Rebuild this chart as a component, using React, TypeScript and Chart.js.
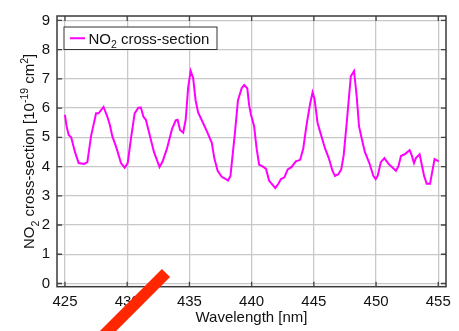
import React, { useEffect, useRef } from "react";
import { Chart, registerables } from "chart.js";

Chart.register(...registerables);

// ---- data ----
const wavelengths = [
  425.0, 425.13, 425.3, 425.5, 425.8, 426.1, 426.55, 426.8, 427.1, 427.5, 427.7, 428.1, 428.4, 428.6, 428.8,
  429.15, 429.5, 429.8, 430.04, 430.3, 430.6, 430.9, 431.1, 431.3, 431.5, 431.8, 432.15, 432.6, 432.85, 433.2,
  433.6, 433.9, 434.05, 434.25, 434.5, 434.7, 434.9, 435.1, 435.3, 435.5, 435.7, 436.1, 436.45, 436.8, 437.0,
  437.27, 437.6, 437.86, 438.1, 438.3, 438.66, 438.9, 439.2, 439.4, 439.65, 439.8, 439.95, 440.2, 440.4, 440.6,
  440.94, 441.16, 441.4, 441.67, 441.9, 442.15, 442.36, 442.63, 442.9, 443.2, 443.55, 443.9, 444.15, 444.4, 444.7,
  444.9, 445.05, 445.3, 445.6, 445.9, 446.2, 446.5, 446.7, 446.97, 447.2, 447.4, 447.64, 447.97, 448.23, 448.45,
  448.63, 448.85, 449.1, 449.46, 449.78, 449.97, 450.13, 450.38, 450.67, 451.0, 451.34, 451.6, 451.8, 452.0, 452.3,
  452.7, 452.86, 453.05, 453.2, 453.5, 453.67, 453.86, 454.07, 454.34, 454.7, 455.03,
];
const crossSection = [
  5.77, 5.38, 5.08, 5.0, 4.5, 4.12, 4.09, 4.15, 5.05, 5.82, 5.82, 6.04, 5.71, 5.44, 5.05,
  4.62, 4.12, 3.96, 4.12, 4.95, 5.82, 6.01, 6.02, 5.71, 5.6, 5.1, 4.5, 3.98, 4.18, 4.62,
  5.28, 5.58, 5.6, 5.25, 5.16, 5.6, 6.7, 7.27, 7.03, 6.26, 5.85, 5.49, 5.16, 4.81, 4.29,
  3.85, 3.65, 3.59, 3.52, 3.68, 5.16, 6.26, 6.68, 6.79, 6.68, 6.1, 5.77, 5.38, 4.62, 4.07,
  3.99, 3.92, 3.52, 3.38, 3.26, 3.41, 3.57, 3.63, 3.9, 3.98, 4.18, 4.23, 4.62, 5.38, 6.15,
  6.54, 6.32, 5.49, 5.05, 4.62, 4.29, 3.85, 3.68, 3.74, 3.9, 4.39, 5.49, 7.09, 7.27, 6.37,
  5.38, 4.95, 4.5, 4.12, 3.68, 3.57, 3.68, 4.15, 4.29, 4.09, 3.96, 3.85, 4.01, 4.36, 4.42,
  4.56, 4.39, 4.12, 4.29, 4.42, 4.07, 3.68, 3.41, 3.41, 4.26, 4.18,
];
const xTickValues = [425, 430, 435, 440, 445, 450, 455];
const yTickValues = [0, 1, 2, 3, 4, 5, 6, 7, 8, 9];
const seriesLabel = "NO₂ cross-section";
const xTitle = "Wavelength [nm]";
const yTitle = "NO₂ cross-section [10⁻¹⁹ cm²]";

// rich-text pieces for the custom-drawn legend and y title
type Seg = { t: string; k?: "sub" | "sup" };
const legendSegs: Seg[] = [{ t: "NO" }, { t: "2", k: "sub" }, { t: " cross-section" }];
const yTitleSegs: Seg[] = [
  { t: "NO" }, { t: "2", k: "sub" }, { t: " cross-section [10" }, { t: "-19", k: "sup" },
  { t: " cm" }, { t: "2", k: "sup" }, { t: "]" },
];

const FONT = '"Liberation Sans", Arial, Helvetica, sans-serif';
const FS = 15;
const TEXT = "#111111";

function drawRich(ctx: CanvasRenderingContext2D, segs: Seg[], x: number, y: number, size: number, align: "left" | "center") {
  const small = size * 0.7;
  const widths = segs.map((s) => {
    ctx.font = `${s.k ? small : size}px ${FONT}`;
    return ctx.measureText(s.t).width;
  });
  const total = widths.reduce((a, b) => a + b, 0);
  let cx = align === "center" ? x - total / 2 : x;
  ctx.textBaseline = "alphabetic";
  ctx.textAlign = "left";
  segs.forEach((s, i) => {
    ctx.font = `${s.k ? small : size}px ${FONT}`;
    const dy = s.k === "sub" ? size * 0.28 : s.k === "sup" ? -size * 0.4 : 0;
    ctx.fillText(s.t, cx, y + dy);
    cx += widths[i];
  });
}

const decorPlugin = {
  id: "decor",
  afterDraw(chart: any) {
    const ctx: CanvasRenderingContext2D = chart.ctx;
    const { left, right, top, bottom } = chart.chartArea;
    const xs = chart.scales.x;
    const ys = chart.scales.y;
    ctx.save();
    // inner tick marks
    ctx.strokeStyle = "#444444";
    ctx.lineWidth = 1.3;
    ctx.beginPath();
    xTickValues.forEach((v) => {
      const px = xs.getPixelForValue(v);
      ctx.moveTo(px, bottom); ctx.lineTo(px, bottom - 5);
      ctx.moveTo(px, top); ctx.lineTo(px, top + 5);
    });
    yTickValues.forEach((v) => {
      const py = ys.getPixelForValue(v);
      ctx.moveTo(left, py); ctx.lineTo(left + 5, py);
      ctx.moveTo(right, py); ctx.lineTo(right - 5, py);
    });
    ctx.stroke();
    // frame
    ctx.strokeStyle = "#3a3a3a";
    ctx.lineWidth = 1.5;
    ctx.strokeRect(left, top, right - left, bottom - top);

    // legend box
    const bx = left + 7, by = top + 11, bw = 153, bh = 22.5;
    ctx.fillStyle = "#ffffff";
    ctx.fillRect(bx, by, bw, bh);
    ctx.strokeStyle = "#333333";
    ctx.lineWidth = 1;
    ctx.strokeRect(bx, by, bw, bh);
    ctx.strokeStyle = "#ff00ff";
    ctx.lineWidth = 2;
    ctx.beginPath();
    ctx.moveTo(bx + 6, by + bh / 2);
    ctx.lineTo(bx + 21, by + bh / 2);
    ctx.stroke();
    ctx.fillStyle = TEXT;
    drawRich(ctx, legendSegs, bx + 24.5, by + bh / 2 + 5.4, FS, "left");

    // y axis title
    ctx.save();
    ctx.translate(29, (top + bottom) / 2);
    ctx.rotate(-Math.PI / 2);
    ctx.fillStyle = TEXT;
    drawRich(ctx, yTitleSegs, 0, 5.3, FS, "center");
    ctx.restore();

    // red diagonal stroke overlay
    ctx.strokeStyle = "#ff2600";
    ctx.lineWidth = 11.5;
    ctx.lineCap = "butt";
    ctx.beginPath();
    ctx.moveTo(166, 273);
    ctx.lineTo(96, 343);
    ctx.stroke();
    ctx.restore();
  },
};

export default function App() {
  const ref = useRef<HTMLCanvasElement | null>(null);
  useEffect(() => {
    if (!ref.current) return;
    const font = { family: FONT, size: FS };
    const chart = new Chart(ref.current, {
      type: "line",
      data: {
        datasets: [
          {
            label: seriesLabel,
            data: wavelengths.map((x, i) => ({ x, y: crossSection[i] })),
            borderColor: "#ff00ff",
            backgroundColor: "#ff00ff",
            borderWidth: 2,
            pointRadius: 0,
            tension: 0,
            fill: false,
          },
        ],
      },
      options: {
        responsive: false,
        animation: false,
        layout: { padding: { top: 6, right: 13, left: 0, bottom: 0 } },
        plugins: { legend: { display: false }, tooltip: { enabled: false }, title: { display: false } },
        scales: {
          x: {
            type: "linear",
            min: 424.36,
            max: 455.62,
            afterFit: (s: any) => { s.height = 44.3; },
            afterBuildTicks: (s: any) => { s.ticks = xTickValues.map((v) => ({ value: v })); },
            grid: { color: "#c8c8c8", lineWidth: 1.3, drawTicks: false },
            border: { display: false },
            ticks: { padding: 6, font, color: TEXT, maxRotation: 0, autoSkip: false, includeBounds: false },
            title: { display: true, text: xTitle, font, color: TEXT, padding: { top: 0, bottom: 4.3 } },
          },
          y: {
            type: "linear",
            min: -0.11,
            max: 9.15,
            afterFit: (s: any) => { s.width = 57; },
            afterBuildTicks: (s: any) => { s.ticks = yTickValues.map((v) => ({ value: v })); },
            grid: { color: "#c8c8c8", lineWidth: 1.3, drawTicks: false },
            border: { display: false },
            ticks: { padding: 7, font, color: TEXT, autoSkip: false, includeBounds: false },
            title: { display: false, text: yTitle },
          },
        },
      },
      plugins: [decorPlugin],
    });
    return () => chart.destroy();
  }, []);
  return (
    <div style={{ position: "fixed", left: 0, top: 0, width: 459, height: 331, background: "#fff" }}>
      <canvas ref={ref} width={459} height={331} style={{ display: "block" }} />
    </div>
  );
}
